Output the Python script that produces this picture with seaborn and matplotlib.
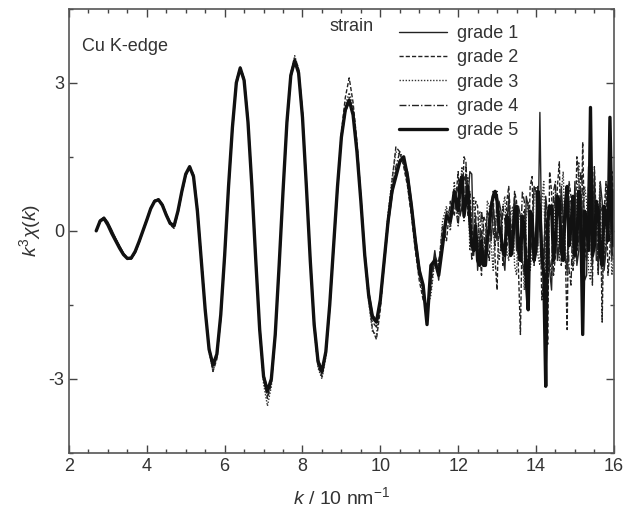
import numpy as np
import pandas as pd
import matplotlib
matplotlib.use("Agg")
import matplotlib.pyplot as plt
import seaborn as sns
from matplotlib.ticker import MultipleLocator

# k grid: 2.7 ... 11.9 (step 0.1), then 12.00 ... 16.00 (step 0.05)
k = np.round(np.concatenate([np.arange(2.7, 11.95, 0.1),
                             np.arange(12.0, 16.001, 0.05)]), 2)

grade1 = [0.00, 0.22, 0.28, 0.18, 0.02, -0.15, -0.30, -0.45, -0.55, -0.56,
          -0.45, -0.25, -0.02, 0.20, 0.43, 0.60, 0.64, 0.55, 0.35, 0.18,
          0.12, 0.38, 0.78, 1.12, 1.28, 1.12, 0.45, -0.55, -1.55, -2.35,
          -2.70, -2.55, -1.80, -0.60, 0.80, 2.00, 2.95, 3.28, 3.10, 2.30,
          1.00, -0.50, -1.90, -2.90, -3.20, -3.05, -2.20, -0.80, 0.70, 2.10,
          3.10, 3.42, 3.25, 2.40, 1.00, -0.50, -1.80, -2.60, -2.80, -2.50,
          -1.60, -0.40, 0.80, 1.85, 2.40, 2.62, 2.40, 1.70, 0.70, -0.40,
          -1.20, -1.70, -1.80, -1.50, -0.70, 0.10, 0.70, 1.20, 1.45, 1.40,
          1.20, 0.60, -0.10, -0.70, -1.20, -1.70, -1.00, -0.40, -1.00, -0.10,
          0.40, 0.10, 0.60,
          0.90, 0.30, 0.50, 1.10, 1.00, 0.60, 1.20, 1.15, -0.50, 0.20,
          -0.80, -0.20, 0.00, -0.70, -0.30, 0.40, 0.30, -0.20, 0.50, 0.10,
          -0.20, 0.60, 0.40, -0.50, -0.80, 0.20, 0.60, -0.30, 0.10, 0.70,
          -0.40, 0.50, 0.30, -0.60, -0.90, 0.70, 0.50, -0.50, -0.20, 0.90,
          0.80, -0.30, 2.40, -0.40, -0.60, 0.70, 0.30, -0.80, -1.20, 0.40,
          0.70, -0.60, -0.30, 0.90, 0.20, -0.50, -0.80, 0.60, 0.60, -0.30,
          1.00, -0.70, -0.40, 0.80, 0.30, -1.00, -0.90, 1.30, 0.80, -0.40,
          1.20, -0.60, -0.50, 1.00, 0.60, -0.80, -0.40, 0.90, 0.50, -0.60,
          0.80]

grade2 = [0.00, 0.18, 0.24, 0.14, -0.03, -0.18, -0.33, -0.47, -0.56, -0.57,
          -0.44, -0.24, 0.00, 0.24, 0.47, 0.62, 0.65, 0.54, 0.33, 0.12,
          0.05, 0.35, 0.75, 1.10, 1.32, 1.15, 0.50, -0.50, -1.55, -2.40,
          -2.85, -2.60, -1.75, -0.45, 0.95, 2.15, 3.05, 3.32, 3.10, 2.25,
          0.95, -0.55, -2.00, -3.00, -3.40, -3.10, -2.15, -0.70, 0.85, 2.25,
          3.20, 3.50, 3.30, 2.40, 0.95, -0.60, -1.95, -2.75, -2.95, -2.50,
          -1.55, -0.30, 0.95, 2.00, 2.70, 3.10, 2.60, 1.80, 0.70, -0.50,
          -1.40, -2.00, -2.20, -1.60, -0.60, 0.30, 1.00, 1.70, 1.60, 1.30,
          0.90, 0.30, -0.40, -1.00, -1.40, -1.50, -1.20, -0.50, -0.70, 0.10,
          -0.20, 0.60, 0.30,
          1.20, 0.50, 0.40, 1.50, 1.40, 0.30, 0.80, 0.10, -0.30, 0.60,
          0.50, -0.40, -0.90, 0.30, 0.20, -0.30, -0.60, 0.50, 0.80, -0.60,
          -1.20, 0.40, 0.30, -0.70, -0.40, 0.60, 0.90, 0.20, -0.20, 0.80,
          0.60, -0.80, -2.10, 0.30, 0.40, -1.20, -0.70, 0.90, 1.10, -0.50,
          -0.30, 0.80, 0.50, -1.40, -1.00, 0.60, -2.30, 1.20, 0.80, -0.90,
          -0.50, 0.90, 1.40, -0.70, 0.30, -0.40, -2.00, 1.00, 0.70, -0.80,
          -0.30, 1.50, 1.10, -0.60, 1.80, -0.20, -0.60, 0.90, 0.40, -1.10,
          1.30, 0.20, -0.80, 0.70, -1.85, 0.40, 1.00, -0.90, -0.40, 1.20,
          0.60]

grade3 = [0.00, 0.19, 0.26, 0.15, -0.02, -0.17, -0.32, -0.46, -0.55, -0.56,
          -0.43, -0.23, 0.01, 0.23, 0.46, 0.61, 0.64, 0.53, 0.34, 0.16,
          0.08, 0.36, 0.76, 1.12, 1.30, 1.14, 0.48, -0.52, -1.58, -2.45,
          -2.85, -2.55, -1.72, -0.48, 0.92, 2.12, 3.02, 3.30, 3.08, 2.22,
          0.92, -0.58, -2.05, -3.10, -3.55, -3.15, -2.12, -0.72, 0.82, 2.22,
          3.18, 3.55, 3.28, 2.35, 0.92, -0.62, -1.98, -2.78, -3.00, -2.55,
          -1.55, -0.35, 0.92, 1.95, 2.55, 2.80, 2.50, 1.75, 0.65, -0.55,
          -1.45, -2.05, -2.10, -1.55, -0.55, 0.35, 1.05, 1.60, 1.55, 1.35,
          0.95, 0.35, -0.30, -0.90, -1.30, -1.60, -1.30, -0.60, -0.80, 0.20,
          0.50, 0.00, 1.00,
          0.20, 0.90, 1.30, 0.40, 0.50, 1.10, -0.40, 0.30, 0.70, -0.20,
          -0.60, 0.40, 0.30, -0.50, -0.40, 0.60, 0.50, -0.30, -0.80, 0.20,
          0.40, -0.60, -0.30, 0.50, 0.70, -0.40, -0.60, 0.30, 0.50, -0.70,
          -0.90, 0.40, 0.20, -0.50, -1.20, 0.30, 0.60, -0.80, -0.40, 0.70,
          0.90, -0.50, -0.70, 0.60, 1.00, -0.90, -1.30, 0.40, 0.50, -0.40,
          0.90, 0.20, -0.60, 0.80, 1.20, -0.30, -0.90, 0.50, 0.40, -0.70,
          -0.60, 0.60, 1.40, -0.50, -0.20, 0.90, 0.60, -0.80, -1.00, 0.50,
          0.70, -0.40, 0.30, 1.00, -1.10, -0.30, 0.80, 0.40, 0.20, -0.90,
          -0.50]

grade4 = [0.00, 0.21, 0.27, 0.16, 0.00, -0.16, -0.31, -0.46, -0.56, -0.57,
          -0.44, -0.22, 0.02, 0.24, 0.46, 0.61, 0.63, 0.53, 0.33, 0.14,
          0.09, 0.39, 0.79, 1.14, 1.31, 1.12, 0.43, -0.57, -1.60, -2.42,
          -2.78, -2.52, -1.72, -0.52, 0.88, 2.08, 2.98, 3.30, 3.06, 2.20,
          0.90, -0.62, -2.02, -3.00, -3.35, -3.05, -2.12, -0.72, 0.78, 2.18,
          3.12, 3.48, 3.22, 2.32, 0.92, -0.58, -1.92, -2.70, -2.90, -2.48,
          -1.52, -0.32, 0.88, 1.92, 2.50, 2.70, 2.42, 1.65, 0.62, -0.48,
          -1.35, -1.85, -1.95, -1.45, -0.55, 0.25, 0.85, 1.30, 1.60, 1.45,
          1.00, 0.40, -0.30, -0.90, -1.15, -1.80, -0.80, -0.70, -0.60, -0.20,
          0.20, 0.50, 0.70,
          0.10, 0.60, 0.90, 0.20, 1.30, 0.80, 0.30, -0.60, -0.30, 0.30,
          -0.50, -0.20, 0.40, 0.10, -0.50, -0.10, 0.30, 0.60, 0.00, -0.30,
          0.80, 0.30, -0.40, 0.50, 0.20, -0.30, 0.70, 0.10, -0.50, 0.60,
          0.30, -0.60, -0.40, 0.80, 0.60, -0.30, -0.80, 0.40, 0.30, -0.70,
          -0.20, 0.90, 0.70, -0.30, -0.50, 0.60, 0.40, -0.60, -0.90, 0.80,
          1.00, -0.50, -0.30, 0.70, -0.40, 0.20, 0.60, -0.80, -1.10, 0.40,
          0.50, -0.40, -0.20, 1.20, 0.90, -0.50, -0.60, 0.60, 0.30, -0.70,
          0.70, 0.40, -0.90, 0.50, 0.40, -0.60, -0.20, 0.90, 1.10, -0.40,
          -0.60]

grade5 = [0.00, 0.20, 0.25, 0.12, -0.05, -0.20, -0.35, -0.48, -0.56, -0.55,
          -0.42, -0.22, 0.00, 0.22, 0.45, 0.60, 0.63, 0.52, 0.32, 0.15,
          0.10, 0.40, 0.80, 1.15, 1.30, 1.10, 0.40, -0.60, -1.60, -2.40,
          -2.72, -2.50, -1.70, -0.50, 0.90, 2.10, 3.00, 3.30, 3.05, 2.20,
          0.90, -0.60, -2.00, -2.95, -3.25, -3.00, -2.10, -0.70, 0.80, 2.20,
          3.15, 3.45, 3.20, 2.30, 0.90, -0.60, -1.90, -2.65, -2.85, -2.45,
          -1.50, -0.30, 0.90, 1.90, 2.45, 2.65, 2.35, 1.60, 0.60, -0.50,
          -1.30, -1.75, -1.85, -1.40, -0.60, 0.20, 0.80, 1.10, 1.40, 1.50,
          1.10, 0.50, -0.20, -0.80, -1.10, -1.90, -0.70, -0.60, -0.90, -0.30,
          0.30, 0.20, 0.80,
          0.40, 1.00, 1.10, 0.30, 0.60, 0.90, 0.20, -0.30, -0.40, 0.10,
          -0.60, -0.70, -0.20, -0.70, -0.70, -0.20, 0.10, 0.50, 0.70, 0.80,
          0.60, 0.10, -0.10, -0.40, -0.50, 0.30, 0.20, -0.50, -0.30, 0.40,
          0.50, -0.30, -0.60, 0.30, 0.10, -1.00, -1.60, 0.40, 0.30, -0.60,
          -0.40, 0.80, 0.40, -0.50, -0.90, -3.15, 0.20, 0.50, 0.50, -0.60,
          -0.20, 0.70, 0.60, -0.40, -0.60, 0.50, 0.90, -0.30, 0.10, 0.70,
          -0.50, -0.20, 0.80, 0.30, -2.10, 0.40, 0.20, -0.40, 2.50, -0.50,
          -0.30, 0.60, 0.40, -0.50, -0.70, 0.50, 0.30, -0.20, 2.30, 0.20,
          -0.30]

labels = ["grade 1", "grade 2", "grade 3", "grade 4", "grade 5"]
series = [grade1, grade2, grade3, grade4, grade5]
styles = ["-", (0, (3, 1.5)), (0, (1, 1.2)), (0, (5, 1.5, 1, 1.5)), "-"]
widths = [1.0, 1.0, 1.0, 1.0, 2.4]
colors = ["#222222", "#222222", "#333333", "#222222", "#111111"]

sns.set_theme(style="ticks")
plt.rcParams["font.family"] = ["Liberation Sans", "DejaVu Sans"]
plt.rcParams["mathtext.fontset"] = "custom"
plt.rcParams["mathtext.it"] = "Liberation Sans:italic"
plt.rcParams["mathtext.rm"] = "Liberation Sans"

fig = plt.figure(figsize=(6.27, 5.17), dpi=100)
ax = fig.add_axes([0.110, 0.124, 0.869, 0.859])

for lab, vals, ls, lw, c in zip(labels, series, styles, widths, colors):
    df = pd.DataFrame({"k": k, "chi": vals})
    sns.lineplot(data=df, x="k", y="chi", ax=ax, color=c, linestyle=ls,
                 linewidth=lw, label=lab, estimator=None, sort=False)

ax.set_xlim(2, 16)
ax.set_ylim(-4.5, 4.5)
ax.xaxis.set_major_locator(MultipleLocator(2))
ax.xaxis.set_minor_locator(MultipleLocator(0.5))
ax.yaxis.set_major_locator(MultipleLocator(3))
ax.yaxis.set_minor_locator(MultipleLocator(1.5))
ax.tick_params(which="both", direction="in", top=True, right=True,
               colors="#444444", labelcolor="#333333", labelsize=13)
ax.tick_params(which="major", length=6, width=1)
ax.tick_params(which="minor", length=3, width=1)
ax.set_yticklabels([f"{v:g}" for v in ax.get_yticks()])
for s in ax.spines.values():
    s.set_color("#555555")
    s.set_linewidth(1.2)

ax.set_xlabel(r"$k$ / 10 nm$^{-1}$", fontsize=14, color="#333333", labelpad=8)
ax.set_ylabel(r"$k^3\chi(k)$", fontsize=14, color="#333333", labelpad=4)

ax.text(0.024, 0.914, "Cu K-edge", transform=ax.transAxes, fontsize=13,
        color="#333333", va="center", ha="left")
ax.text(0.479, 0.960, "strain", transform=ax.transAxes, fontsize=13,
        color="#333333", va="center", ha="left")

leg = ax.legend(loc="upper left", bbox_to_anchor=(0.605, 0.963), frameon=False,
                fontsize=13, handlelength=2.7, handletextpad=0.55,
                labelspacing=0.4, borderpad=0, borderaxespad=0)
for t in leg.get_texts():
    t.set_color("#333333")

fig.savefig("out.png", dpi=100)
